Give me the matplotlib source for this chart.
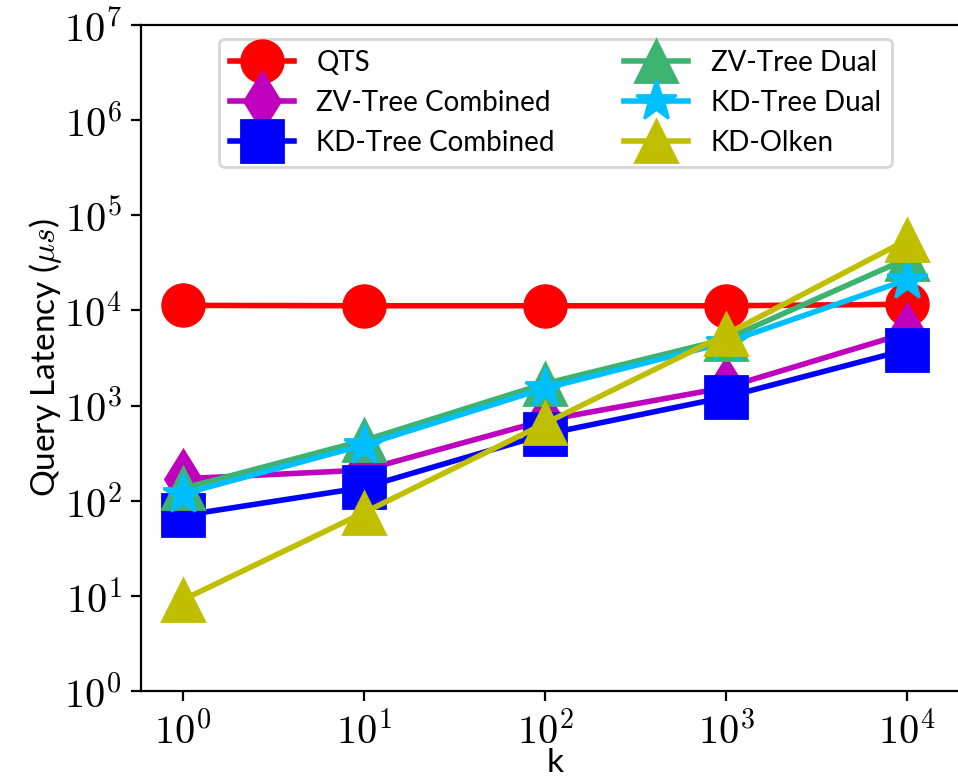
import math
import matplotlib
matplotlib.use('Agg')
import matplotlib.pyplot as plt
from matplotlib.ticker import FuncFormatter, FixedLocator

plt.rcParams['font.family'] = ['Lato', 'DejaVu Sans']
plt.rcParams['mathtext.fontset'] = 'cm'

k = [1, 10, 100, 1000, 10000]
yticks = [1, 10, 100, 1e3, 1e4, 1e5, 1e6, 1e7]

qts = [11300, 11200, 11200, 11200, 11600]
zv_combined = [170, 210, 700, 1550, 5800]
kd_combined = [70, 138, 500, 1230, 3870]
zv_dual = [135, 430, 1700, 5000, 35000]
kd_dual = [118, 385, 1520, 4600, 21000]
kd_olken = [9.1, 75, 650, 5600, 55000]

series = [
    ('QTS', qts, 'r', 'o'),
    ('ZV-Tree Combined', zv_combined, 'm', 'd'),
    ('KD-Tree Combined', kd_combined, 'b', 's'),
    ('ZV-Tree Dual', zv_dual, 'mediumseagreen', '^'),
    ('KD-Tree Dual', kd_dual, 'deepskyblue', '*'),
    ('KD-Olken', kd_olken, 'y', '^'),
]

fig = plt.figure(figsize=(4.79, 3.915), dpi=200)
ax = fig.add_axes([141 / 958, 92 / 783, (970 - 141) / 958, (691 - 25) / 783])

for name, vals, col, mk in series:
    ax.plot(k, vals, color=col, marker=mk, markersize=15, linewidth=2, label=name)

ax.set_xscale('log')
ax.set_yscale('log')
ax.set_xlim(10 ** -0.232, 10 ** 4.348)
ax.set_ylim(1, 1e7)
ax.xaxis.set_major_locator(FixedLocator(k))
ax.yaxis.set_major_locator(FixedLocator(yticks))
ax.minorticks_off()
fmt = FuncFormatter(lambda v, p: r'$10^{%d}$' % round(math.log10(v)))
ax.xaxis.set_major_formatter(fmt)
ax.yaxis.set_major_formatter(fmt)
ax.tick_params(labelsize=14.5)

ax.set_xlabel('k', fontsize=12, labelpad=-1)
ax.set_ylabel(r'Query Latency ($\mu s$)', fontsize=12, labelpad=0)

ax.legend(loc='upper center', ncol=2, fontsize=10, labelspacing=0.5,
          columnspacing=2.5, handlelength=2.3)

fig.savefig('out.png', dpi=200)
